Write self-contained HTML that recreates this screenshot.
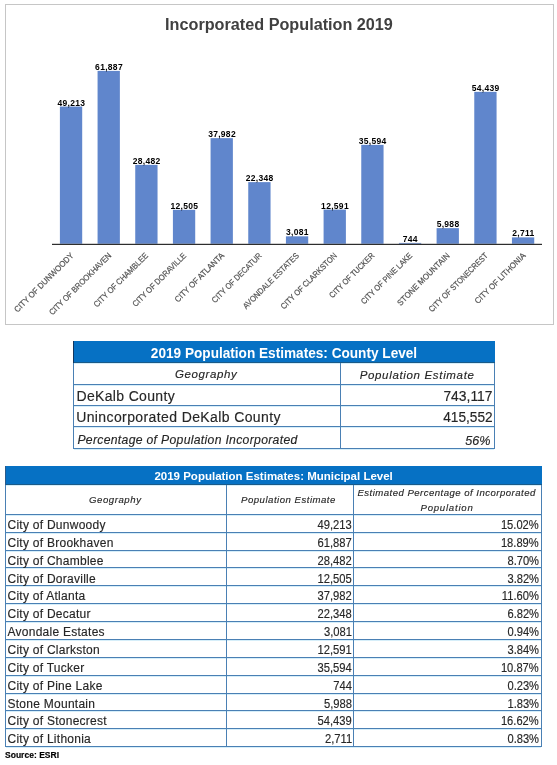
<!DOCTYPE html>
<html><head><meta charset="utf-8"><style>
html,body{margin:0;padding:0;background:#fff;}
body{width:557px;height:765px;position:relative;overflow:hidden;font-family:"Liberation Sans", sans-serif;-webkit-font-smoothing:antialiased;}
#w{position:absolute;left:0;top:0;width:557px;height:765px;will-change:transform;}
</style></head><body>
<div id="w"><div style="position:absolute;left:5px;top:4px;width:549px;height:1px;background:#c6c6c6;"></div>
<div style="position:absolute;left:5px;top:324px;width:549px;height:1px;background:#c6c6c6;"></div>
<div style="position:absolute;left:5px;top:4px;width:1px;height:321px;background:#c6c6c6;"></div>
<div style="position:absolute;left:553px;top:4px;width:1px;height:321px;background:#c6c6c6;"></div>
<svg style="position:absolute;left:0;top:0" width="557" height="330"><rect x="59.90" y="106.55" width="22.3" height="137.45" fill="#6086cc"/><rect x="97.57" y="70.90" width="22.3" height="173.10" fill="#6086cc"/><rect x="135.24" y="164.87" width="22.3" height="79.13" fill="#6086cc"/><rect x="172.91" y="209.82" width="22.3" height="34.18" fill="#6086cc"/><rect x="210.58" y="138.15" width="22.3" height="105.85" fill="#6086cc"/><rect x="248.25" y="182.13" width="22.3" height="61.87" fill="#6086cc"/><rect x="285.92" y="236.33" width="22.3" height="7.67" fill="#6086cc"/><rect x="323.59" y="209.58" width="22.3" height="34.42" fill="#6086cc"/><rect x="361.26" y="144.87" width="22.3" height="99.13" fill="#6086cc"/><rect x="398.93" y="242.91" width="22.3" height="1.09" fill="#6086cc"/><rect x="436.60" y="228.15" width="22.3" height="15.85" fill="#6086cc"/><rect x="474.27" y="91.85" width="22.3" height="152.15" fill="#6086cc"/><rect x="511.94" y="237.37" width="22.3" height="6.63" fill="#6086cc"/><rect x="52" y="244" width="490" height="1" fill="#2e2e2e"/><rect x="52" y="243.6" width="490" height="0.4" fill="#888"/></svg>
<div style="position:absolute;top:99px;left:-228.80px;width:600px;text-align:center;text-indent:0.3px;font-size:8.5px;line-height:8.5px;font-weight:bold;color:#000;letter-spacing:0.3px;white-space:nowrap;">49,213</div>
<div style="position:absolute;top:63px;left:-191.13px;width:600px;text-align:center;text-indent:0.3px;font-size:8.5px;line-height:8.5px;font-weight:bold;color:#000;letter-spacing:0.3px;white-space:nowrap;">61,887</div>
<div style="position:absolute;top:157px;left:-153.46px;width:600px;text-align:center;text-indent:0.3px;font-size:8.5px;line-height:8.5px;font-weight:bold;color:#000;letter-spacing:0.3px;white-space:nowrap;">28,482</div>
<div style="position:absolute;top:202px;left:-115.79px;width:600px;text-align:center;text-indent:0.3px;font-size:8.5px;line-height:8.5px;font-weight:bold;color:#000;letter-spacing:0.3px;white-space:nowrap;">12,505</div>
<div style="position:absolute;top:130px;left:-78.12px;width:600px;text-align:center;text-indent:0.3px;font-size:8.5px;line-height:8.5px;font-weight:bold;color:#000;letter-spacing:0.3px;white-space:nowrap;">37,982</div>
<div style="position:absolute;top:174px;left:-40.45px;width:600px;text-align:center;text-indent:0.3px;font-size:8.5px;line-height:8.5px;font-weight:bold;color:#000;letter-spacing:0.3px;white-space:nowrap;">22,348</div>
<div style="position:absolute;top:228px;left:-2.78px;width:600px;text-align:center;text-indent:0.3px;font-size:8.5px;line-height:8.5px;font-weight:bold;color:#000;letter-spacing:0.3px;white-space:nowrap;">3,081</div>
<div style="position:absolute;top:202px;left:34.89px;width:600px;text-align:center;text-indent:0.3px;font-size:8.5px;line-height:8.5px;font-weight:bold;color:#000;letter-spacing:0.3px;white-space:nowrap;">12,591</div>
<div style="position:absolute;top:137px;left:72.56px;width:600px;text-align:center;text-indent:0.3px;font-size:8.5px;line-height:8.5px;font-weight:bold;color:#000;letter-spacing:0.3px;white-space:nowrap;">35,594</div>
<div style="position:absolute;top:235px;left:110.23px;width:600px;text-align:center;text-indent:0.3px;font-size:8.5px;line-height:8.5px;font-weight:bold;color:#000;letter-spacing:0.3px;white-space:nowrap;">744</div>
<div style="position:absolute;top:220px;left:147.90px;width:600px;text-align:center;text-indent:0.3px;font-size:8.5px;line-height:8.5px;font-weight:bold;color:#000;letter-spacing:0.3px;white-space:nowrap;">5,988</div>
<div style="position:absolute;top:84px;left:185.57px;width:600px;text-align:center;text-indent:0.3px;font-size:8.5px;line-height:8.5px;font-weight:bold;color:#000;letter-spacing:0.3px;white-space:nowrap;">54,439</div>
<div style="position:absolute;top:229px;left:223.24px;width:600px;text-align:center;text-indent:0.3px;font-size:8.5px;line-height:8.5px;font-weight:bold;color:#000;letter-spacing:0.3px;white-space:nowrap;">2,711</div>
<div style="position:absolute;right:485.35px;top:249.8px;font-size:8.3px;line-height:8.3px;color:#505050;white-space:nowrap;letter-spacing:0.0px;-webkit-text-stroke:0.2px #505050;transform-origin:right center;transform:rotate(-45deg) scaleX(0.9398);">CITY OF DUNWOODY</div>
<div style="position:absolute;right:447.68px;top:249.8px;font-size:8.3px;line-height:8.3px;color:#505050;white-space:nowrap;letter-spacing:0.0px;-webkit-text-stroke:0.2px #505050;transform-origin:right center;transform:rotate(-45deg) scaleX(0.9044);">CITY OF BROOKHAVEN</div>
<div style="position:absolute;right:410.01px;top:249.8px;font-size:8.3px;line-height:8.3px;color:#505050;white-space:nowrap;letter-spacing:0.0px;-webkit-text-stroke:0.2px #505050;transform-origin:right center;transform:rotate(-45deg) scaleX(0.9054);">CITY OF CHAMBLEE</div>
<div style="position:absolute;right:372.34px;top:249.8px;font-size:8.3px;line-height:8.3px;color:#505050;white-space:nowrap;letter-spacing:0.0px;-webkit-text-stroke:0.2px #505050;transform-origin:right center;transform:rotate(-45deg) scaleX(0.8926);">CITY OF DORAVILLE</div>
<div style="position:absolute;right:334.67px;top:249.8px;font-size:8.3px;line-height:8.3px;color:#505050;white-space:nowrap;letter-spacing:0.0px;-webkit-text-stroke:0.2px #505050;transform-origin:right center;transform:rotate(-45deg) scaleX(0.9328);">CITY OF ATLANTA</div>
<div style="position:absolute;right:297.00px;top:249.8px;font-size:8.3px;line-height:8.3px;color:#505050;white-space:nowrap;letter-spacing:0.0px;-webkit-text-stroke:0.2px #505050;transform-origin:right center;transform:rotate(-45deg) scaleX(0.8995);">CITY OF DECATUR</div>
<div style="position:absolute;right:259.33px;top:249.8px;font-size:8.3px;line-height:8.3px;color:#505050;white-space:nowrap;letter-spacing:0.0px;-webkit-text-stroke:0.2px #505050;transform-origin:right center;transform:rotate(-45deg) scaleX(0.9025);">AVONDALE ESTATES</div>
<div style="position:absolute;right:221.66px;top:249.8px;font-size:8.3px;line-height:8.3px;color:#505050;white-space:nowrap;letter-spacing:0.0px;-webkit-text-stroke:0.2px #505050;transform-origin:right center;transform:rotate(-45deg) scaleX(0.8855);">CITY OF CLARKSTON</div>
<div style="position:absolute;right:183.99px;top:249.8px;font-size:8.3px;line-height:8.3px;color:#505050;white-space:nowrap;letter-spacing:0.0px;-webkit-text-stroke:0.2px #505050;transform-origin:right center;transform:rotate(-45deg) scaleX(0.8692);">CITY OF TUCKER</div>
<div style="position:absolute;right:146.32px;top:249.8px;font-size:8.3px;line-height:8.3px;color:#505050;white-space:nowrap;letter-spacing:0.0px;-webkit-text-stroke:0.2px #505050;transform-origin:right center;transform:rotate(-45deg) scaleX(0.8845);">CITY OF PINE LAKE</div>
<div style="position:absolute;right:108.65px;top:249.8px;font-size:8.3px;line-height:8.3px;color:#505050;white-space:nowrap;letter-spacing:0.0px;-webkit-text-stroke:0.2px #505050;transform-origin:right center;transform:rotate(-45deg) scaleX(0.9500);">STONE MOUNTAIN</div>
<div style="position:absolute;right:70.98px;top:249.8px;font-size:8.3px;line-height:8.3px;color:#505050;white-space:nowrap;letter-spacing:0.0px;-webkit-text-stroke:0.2px #505050;transform-origin:right center;transform:rotate(-45deg) scaleX(0.8725);">CITY OF STONECREST</div>
<div style="position:absolute;right:33.31px;top:249.8px;font-size:8.3px;line-height:8.3px;color:#505050;white-space:nowrap;letter-spacing:0.0px;-webkit-text-stroke:0.2px #505050;transform-origin:right center;transform:rotate(-45deg) scaleX(0.9299);">CITY OF LITHONIA</div>
<svg style="position:absolute;left:0;top:330px" width="557" height="435"><rect x="73.0" y="11" width="422.0" height="21" fill="#0671c4"/><rect x="73.0" y="32" width="422.0" height="1" fill="#1a5a88"/><rect x="74.0" y="33" width="420.0" height="1" fill="#d6eef9"/><rect x="73" y="11" width="1" height="23" fill="#12365e"/><rect x="73.0" y="54" width="422.0" height="1" fill="#4a80b4"/><rect x="74.0" y="55" width="420.0" height="1" fill="#d6eef9"/><rect x="73.0" y="75" width="422.0" height="1" fill="#4a80b4"/><rect x="74.0" y="76" width="420.0" height="1" fill="#d6eef9"/><rect x="73.0" y="96" width="422.0" height="1" fill="#4a80b4"/><rect x="74.0" y="97" width="420.0" height="1" fill="#d6eef9"/><rect x="73.0" y="118" width="422.0" height="1" fill="#4a80b4"/><rect x="74.0" y="119" width="420.0" height="1" fill="#d6eef9"/><rect x="73" y="33" width="1" height="86" fill="#4a80b4"/><rect x="494" y="33" width="1" height="86" fill="#4a80b4"/><rect x="340" y="33" width="1" height="86" fill="#4a80b4"/><rect x="5.0" y="136" width="537.0" height="18" fill="#0671c4"/><rect x="5.0" y="154" width="537.0" height="1" fill="#1a5a88"/><rect x="6.0" y="155" width="535.0" height="1" fill="#d6eef9"/><rect x="5" y="136" width="1" height="20" fill="#2a5a8a"/><rect x="5.0" y="184" width="537.0" height="1" fill="#4a80b4"/><rect x="6.0" y="185" width="535.0" height="1" fill="#d6eef9"/><rect x="5.0" y="202" width="537.0" height="1" fill="#4a80b4"/><rect x="6.0" y="203" width="535.0" height="1" fill="#d6eef9"/><rect x="5.0" y="220" width="537.0" height="1" fill="#4a80b4"/><rect x="6.0" y="221" width="535.0" height="1" fill="#d6eef9"/><rect x="5.0" y="237" width="537.0" height="1" fill="#4a80b4"/><rect x="6.0" y="238" width="535.0" height="1" fill="#d6eef9"/><rect x="5.0" y="255" width="537.0" height="1" fill="#4a80b4"/><rect x="6.0" y="256" width="535.0" height="1" fill="#d6eef9"/><rect x="5.0" y="273" width="537.0" height="1" fill="#4a80b4"/><rect x="6.0" y="274" width="535.0" height="1" fill="#d6eef9"/><rect x="5.0" y="291" width="537.0" height="1" fill="#4a80b4"/><rect x="6.0" y="292" width="535.0" height="1" fill="#d6eef9"/><rect x="5.0" y="309" width="537.0" height="1" fill="#4a80b4"/><rect x="6.0" y="310" width="535.0" height="1" fill="#d6eef9"/><rect x="5.0" y="327" width="537.0" height="1" fill="#4a80b4"/><rect x="6.0" y="328" width="535.0" height="1" fill="#d6eef9"/><rect x="5.0" y="345" width="537.0" height="1" fill="#4a80b4"/><rect x="6.0" y="346" width="535.0" height="1" fill="#d6eef9"/><rect x="5.0" y="363" width="537.0" height="1" fill="#4a80b4"/><rect x="6.0" y="364" width="535.0" height="1" fill="#d6eef9"/><rect x="5.0" y="380" width="537.0" height="1" fill="#4a80b4"/><rect x="6.0" y="381" width="535.0" height="1" fill="#d6eef9"/><rect x="5.0" y="398" width="537.0" height="1" fill="#4a80b4"/><rect x="6.0" y="399" width="535.0" height="1" fill="#d6eef9"/><rect x="5.0" y="416" width="537.0" height="1" fill="#4a80b4"/><rect x="6.0" y="417" width="535.0" height="1" fill="#d6eef9"/><rect x="5" y="155" width="1" height="262" fill="#4a80b4"/><rect x="541" y="155" width="1" height="262" fill="#4a80b4"/><rect x="226" y="155" width="1" height="262" fill="#4a80b4"/><rect x="353" y="155" width="1" height="262" fill="#4a80b4"/></svg>
<div style="position:absolute;top:17px;font-size:16px;line-height:16px;font-weight:bold;font-style:normal;color:#404040;white-space:nowrap;left:-20.75px;width:600px;text-align:center;transform:scaleX(1.0126);transform-origin:center center;">Incorporated Population 2019</div>
<div style="position:absolute;top:347px;font-size:13.8px;line-height:13.8px;font-weight:bold;font-style:normal;color:#fff;white-space:nowrap;left:-15.90px;width:600px;text-align:center;transform:scaleX(0.9866);transform-origin:center center;">2019 Population Estimates: County Level</div>
<div style="position:absolute;top:369px;font-size:11.5px;line-height:11.5px;font-weight:normal;font-style:italic;color:#262626;white-space:nowrap;letter-spacing:0.600px;-webkit-text-stroke:0.15px #262626;left:-94.10px;width:600px;text-align:center;text-indent:0.600px;">Geography</div>
<div style="position:absolute;top:370px;font-size:11.5px;line-height:11.5px;font-weight:normal;font-style:italic;color:#262626;white-space:nowrap;letter-spacing:0.667px;-webkit-text-stroke:0.15px #262626;left:116.80px;width:600px;text-align:center;text-indent:0.667px;">Population Estimate</div>
<div style="position:absolute;top:389px;font-size:14.0px;line-height:14.0px;font-weight:normal;font-style:normal;color:#262626;white-space:nowrap;letter-spacing:0.333px;-webkit-text-stroke:0.15px #262626;left:76.50px;">DeKalb County</div>
<div style="position:absolute;top:389px;font-size:14.0px;line-height:14.0px;font-weight:normal;font-style:normal;color:#262626;white-space:nowrap;-webkit-text-stroke:0.15px #262626;right:64.70px;transform:scaleX(0.9919);transform-origin:right center;">743,117</div>
<div style="position:absolute;top:410px;font-size:14.0px;line-height:14.0px;font-weight:normal;font-style:normal;color:#262626;white-space:nowrap;letter-spacing:0.389px;-webkit-text-stroke:0.15px #262626;left:76.20px;">Unincorporated DeKalb County</div>
<div style="position:absolute;top:410px;font-size:14.0px;line-height:14.0px;font-weight:normal;font-style:normal;color:#262626;white-space:nowrap;-webkit-text-stroke:0.15px #262626;right:64.70px;transform:scaleX(0.9762);transform-origin:right center;">415,552</div>
<div style="position:absolute;top:434px;font-size:12.2px;line-height:12.2px;font-weight:normal;font-style:italic;color:#262626;white-space:nowrap;letter-spacing:0.311px;-webkit-text-stroke:0.15px #262626;left:77.40px;">Percentage of Population Incorporated</div>
<div style="position:absolute;top:435px;font-size:12.2px;line-height:12.2px;font-weight:normal;font-style:italic;color:#262626;white-space:nowrap;-webkit-text-stroke:0.15px #262626;right:66.90px;transform:scaleX(1.0355);transform-origin:right center;">56%</div>
<div style="position:absolute;top:471px;font-size:11.5px;line-height:11.5px;font-weight:bold;font-style:normal;color:#fff;white-space:nowrap;left:-26.40px;width:600px;text-align:center;transform:scaleX(1.0000);transform-origin:center center;">2019 Population Estimates: Municipal Level</div>
<div style="position:absolute;top:495px;font-size:9.6px;line-height:9.6px;font-weight:normal;font-style:italic;color:#262626;white-space:nowrap;letter-spacing:0.550px;-webkit-text-stroke:0.15px #262626;left:-185.00px;width:600px;text-align:center;text-indent:0.550px;">Geography</div>
<div style="position:absolute;top:495px;font-size:9.6px;line-height:9.6px;font-weight:normal;font-style:italic;color:#262626;white-space:nowrap;letter-spacing:0.500px;-webkit-text-stroke:0.15px #262626;left:-11.80px;width:600px;text-align:center;text-indent:0.500px;">Population Estimate</div>
<div style="position:absolute;top:488px;font-size:9.6px;line-height:9.6px;font-weight:normal;font-style:italic;color:#262626;white-space:nowrap;letter-spacing:0.466px;-webkit-text-stroke:0.15px #262626;left:146.40px;width:600px;text-align:center;text-indent:0.466px;">Estimated Percentage of Incorporated</div>
<div style="position:absolute;top:503px;font-size:9.6px;line-height:9.6px;font-weight:normal;font-style:italic;color:#262626;white-space:nowrap;letter-spacing:0.767px;-webkit-text-stroke:0.15px #262626;left:146.60px;width:600px;text-align:center;text-indent:0.767px;">Population</div>
<div style="position:absolute;top:519px;font-size:12.0px;line-height:12.0px;font-weight:normal;font-style:normal;color:#262626;white-space:nowrap;letter-spacing:0.260px;-webkit-text-stroke:0.15px #262626;left:7.50px;">City of Dunwoody</div>
<div style="position:absolute;top:537px;font-size:12.0px;line-height:12.0px;font-weight:normal;font-style:normal;color:#262626;white-space:nowrap;letter-spacing:0.260px;-webkit-text-stroke:0.15px #262626;left:7.50px;">City of Brookhaven</div>
<div style="position:absolute;top:555px;font-size:12.0px;line-height:12.0px;font-weight:normal;font-style:normal;color:#262626;white-space:nowrap;letter-spacing:0.260px;-webkit-text-stroke:0.15px #262626;left:7.50px;">City of Chamblee</div>
<div style="position:absolute;top:573px;font-size:12.0px;line-height:12.0px;font-weight:normal;font-style:normal;color:#262626;white-space:nowrap;letter-spacing:0.260px;-webkit-text-stroke:0.15px #262626;left:7.50px;">City of Doraville</div>
<div style="position:absolute;top:590px;font-size:12.0px;line-height:12.0px;font-weight:normal;font-style:normal;color:#262626;white-space:nowrap;letter-spacing:0.260px;-webkit-text-stroke:0.15px #262626;left:7.50px;">City of Atlanta</div>
<div style="position:absolute;top:608px;font-size:12.0px;line-height:12.0px;font-weight:normal;font-style:normal;color:#262626;white-space:nowrap;letter-spacing:0.260px;-webkit-text-stroke:0.15px #262626;left:7.50px;">City of Decatur</div>
<div style="position:absolute;top:626px;font-size:12.0px;line-height:12.0px;font-weight:normal;font-style:normal;color:#262626;white-space:nowrap;letter-spacing:0.260px;-webkit-text-stroke:0.15px #262626;left:7.50px;">Avondale Estates</div>
<div style="position:absolute;top:644px;font-size:12.0px;line-height:12.0px;font-weight:normal;font-style:normal;color:#262626;white-space:nowrap;letter-spacing:0.260px;-webkit-text-stroke:0.15px #262626;left:7.50px;">City of Clarkston</div>
<div style="position:absolute;top:662px;font-size:12.0px;line-height:12.0px;font-weight:normal;font-style:normal;color:#262626;white-space:nowrap;letter-spacing:0.260px;-webkit-text-stroke:0.15px #262626;left:7.50px;">City of Tucker</div>
<div style="position:absolute;top:680px;font-size:12.0px;line-height:12.0px;font-weight:normal;font-style:normal;color:#262626;white-space:nowrap;letter-spacing:0.260px;-webkit-text-stroke:0.15px #262626;left:7.50px;">City of Pine Lake</div>
<div style="position:absolute;top:698px;font-size:12.0px;line-height:12.0px;font-weight:normal;font-style:normal;color:#262626;white-space:nowrap;letter-spacing:0.260px;-webkit-text-stroke:0.15px #262626;left:7.50px;">Stone Mountain</div>
<div style="position:absolute;top:715px;font-size:12.0px;line-height:12.0px;font-weight:normal;font-style:normal;color:#262626;white-space:nowrap;letter-spacing:0.260px;-webkit-text-stroke:0.15px #262626;left:7.50px;">City of Stonecrest</div>
<div style="position:absolute;top:733px;font-size:12.0px;line-height:12.0px;font-weight:normal;font-style:normal;color:#262626;white-space:nowrap;letter-spacing:0.260px;-webkit-text-stroke:0.15px #262626;left:7.50px;">City of Lithonia</div>
<div style="position:absolute;top:519px;font-size:12.0px;line-height:12.0px;font-weight:normal;font-style:normal;color:#262626;white-space:nowrap;-webkit-text-stroke:0.15px #262626;right:205.20px;transform:scaleX(0.9336);transform-origin:right center;">49,213</div>
<div style="position:absolute;top:537px;font-size:12.0px;line-height:12.0px;font-weight:normal;font-style:normal;color:#262626;white-space:nowrap;-webkit-text-stroke:0.15px #262626;right:205.20px;transform:scaleX(0.9336);transform-origin:right center;">61,887</div>
<div style="position:absolute;top:555px;font-size:12.0px;line-height:12.0px;font-weight:normal;font-style:normal;color:#262626;white-space:nowrap;-webkit-text-stroke:0.15px #262626;right:205.20px;transform:scaleX(0.9336);transform-origin:right center;">28,482</div>
<div style="position:absolute;top:573px;font-size:12.0px;line-height:12.0px;font-weight:normal;font-style:normal;color:#262626;white-space:nowrap;-webkit-text-stroke:0.15px #262626;right:205.20px;transform:scaleX(0.9336);transform-origin:right center;">12,505</div>
<div style="position:absolute;top:590px;font-size:12.0px;line-height:12.0px;font-weight:normal;font-style:normal;color:#262626;white-space:nowrap;-webkit-text-stroke:0.15px #262626;right:205.20px;transform:scaleX(0.9336);transform-origin:right center;">37,982</div>
<div style="position:absolute;top:608px;font-size:12.0px;line-height:12.0px;font-weight:normal;font-style:normal;color:#262626;white-space:nowrap;-webkit-text-stroke:0.15px #262626;right:205.20px;transform:scaleX(0.9336);transform-origin:right center;">22,348</div>
<div style="position:absolute;top:626px;font-size:12.0px;line-height:12.0px;font-weight:normal;font-style:normal;color:#262626;white-space:nowrap;-webkit-text-stroke:0.15px #262626;right:205.20px;transform:scaleX(0.9336);transform-origin:right center;">3,081</div>
<div style="position:absolute;top:644px;font-size:12.0px;line-height:12.0px;font-weight:normal;font-style:normal;color:#262626;white-space:nowrap;-webkit-text-stroke:0.15px #262626;right:205.20px;transform:scaleX(0.9336);transform-origin:right center;">12,591</div>
<div style="position:absolute;top:662px;font-size:12.0px;line-height:12.0px;font-weight:normal;font-style:normal;color:#262626;white-space:nowrap;-webkit-text-stroke:0.15px #262626;right:205.20px;transform:scaleX(0.9336);transform-origin:right center;">35,594</div>
<div style="position:absolute;top:680px;font-size:12.0px;line-height:12.0px;font-weight:normal;font-style:normal;color:#262626;white-space:nowrap;-webkit-text-stroke:0.15px #262626;right:205.20px;transform:scaleX(0.9336);transform-origin:right center;">744</div>
<div style="position:absolute;top:698px;font-size:12.0px;line-height:12.0px;font-weight:normal;font-style:normal;color:#262626;white-space:nowrap;-webkit-text-stroke:0.15px #262626;right:205.20px;transform:scaleX(0.9336);transform-origin:right center;">5,988</div>
<div style="position:absolute;top:715px;font-size:12.0px;line-height:12.0px;font-weight:normal;font-style:normal;color:#262626;white-space:nowrap;-webkit-text-stroke:0.15px #262626;right:205.20px;transform:scaleX(0.9336);transform-origin:right center;">54,439</div>
<div style="position:absolute;top:733px;font-size:12.0px;line-height:12.0px;font-weight:normal;font-style:normal;color:#262626;white-space:nowrap;-webkit-text-stroke:0.15px #262626;right:205.20px;transform:scaleX(0.9336);transform-origin:right center;">2,711</div>
<div style="position:absolute;top:519px;font-size:12.0px;line-height:12.0px;font-weight:normal;font-style:normal;color:#262626;white-space:nowrap;-webkit-text-stroke:0.15px #262626;right:18.10px;transform:scaleX(0.9285);transform-origin:right center;">15.02%</div>
<div style="position:absolute;top:537px;font-size:12.0px;line-height:12.0px;font-weight:normal;font-style:normal;color:#262626;white-space:nowrap;-webkit-text-stroke:0.15px #262626;right:18.10px;transform:scaleX(0.9285);transform-origin:right center;">18.89%</div>
<div style="position:absolute;top:555px;font-size:12.0px;line-height:12.0px;font-weight:normal;font-style:normal;color:#262626;white-space:nowrap;-webkit-text-stroke:0.15px #262626;right:18.10px;transform:scaleX(0.9285);transform-origin:right center;">8.70%</div>
<div style="position:absolute;top:573px;font-size:12.0px;line-height:12.0px;font-weight:normal;font-style:normal;color:#262626;white-space:nowrap;-webkit-text-stroke:0.15px #262626;right:18.10px;transform:scaleX(0.9285);transform-origin:right center;">3.82%</div>
<div style="position:absolute;top:590px;font-size:12.0px;line-height:12.0px;font-weight:normal;font-style:normal;color:#262626;white-space:nowrap;-webkit-text-stroke:0.15px #262626;right:18.10px;transform:scaleX(0.9285);transform-origin:right center;">11.60%</div>
<div style="position:absolute;top:608px;font-size:12.0px;line-height:12.0px;font-weight:normal;font-style:normal;color:#262626;white-space:nowrap;-webkit-text-stroke:0.15px #262626;right:18.10px;transform:scaleX(0.9285);transform-origin:right center;">6.82%</div>
<div style="position:absolute;top:626px;font-size:12.0px;line-height:12.0px;font-weight:normal;font-style:normal;color:#262626;white-space:nowrap;-webkit-text-stroke:0.15px #262626;right:18.10px;transform:scaleX(0.9285);transform-origin:right center;">0.94%</div>
<div style="position:absolute;top:644px;font-size:12.0px;line-height:12.0px;font-weight:normal;font-style:normal;color:#262626;white-space:nowrap;-webkit-text-stroke:0.15px #262626;right:18.10px;transform:scaleX(0.9285);transform-origin:right center;">3.84%</div>
<div style="position:absolute;top:662px;font-size:12.0px;line-height:12.0px;font-weight:normal;font-style:normal;color:#262626;white-space:nowrap;-webkit-text-stroke:0.15px #262626;right:18.10px;transform:scaleX(0.9285);transform-origin:right center;">10.87%</div>
<div style="position:absolute;top:680px;font-size:12.0px;line-height:12.0px;font-weight:normal;font-style:normal;color:#262626;white-space:nowrap;-webkit-text-stroke:0.15px #262626;right:18.10px;transform:scaleX(0.9285);transform-origin:right center;">0.23%</div>
<div style="position:absolute;top:698px;font-size:12.0px;line-height:12.0px;font-weight:normal;font-style:normal;color:#262626;white-space:nowrap;-webkit-text-stroke:0.15px #262626;right:18.10px;transform:scaleX(0.9285);transform-origin:right center;">1.83%</div>
<div style="position:absolute;top:715px;font-size:12.0px;line-height:12.0px;font-weight:normal;font-style:normal;color:#262626;white-space:nowrap;-webkit-text-stroke:0.15px #262626;right:18.10px;transform:scaleX(0.9285);transform-origin:right center;">16.62%</div>
<div style="position:absolute;top:733px;font-size:12.0px;line-height:12.0px;font-weight:normal;font-style:normal;color:#262626;white-space:nowrap;-webkit-text-stroke:0.15px #262626;right:18.10px;transform:scaleX(0.9285);transform-origin:right center;">0.83%</div>
<div style="position:absolute;top:751px;font-size:8.6px;line-height:8.6px;font-weight:bold;font-style:normal;color:#000;white-space:nowrap;-webkit-text-stroke:0.15px #000;left:5.10px;transform:scaleX(0.9927);transform-origin:left center;">Source: ESRI</div></div>
</body></html>
